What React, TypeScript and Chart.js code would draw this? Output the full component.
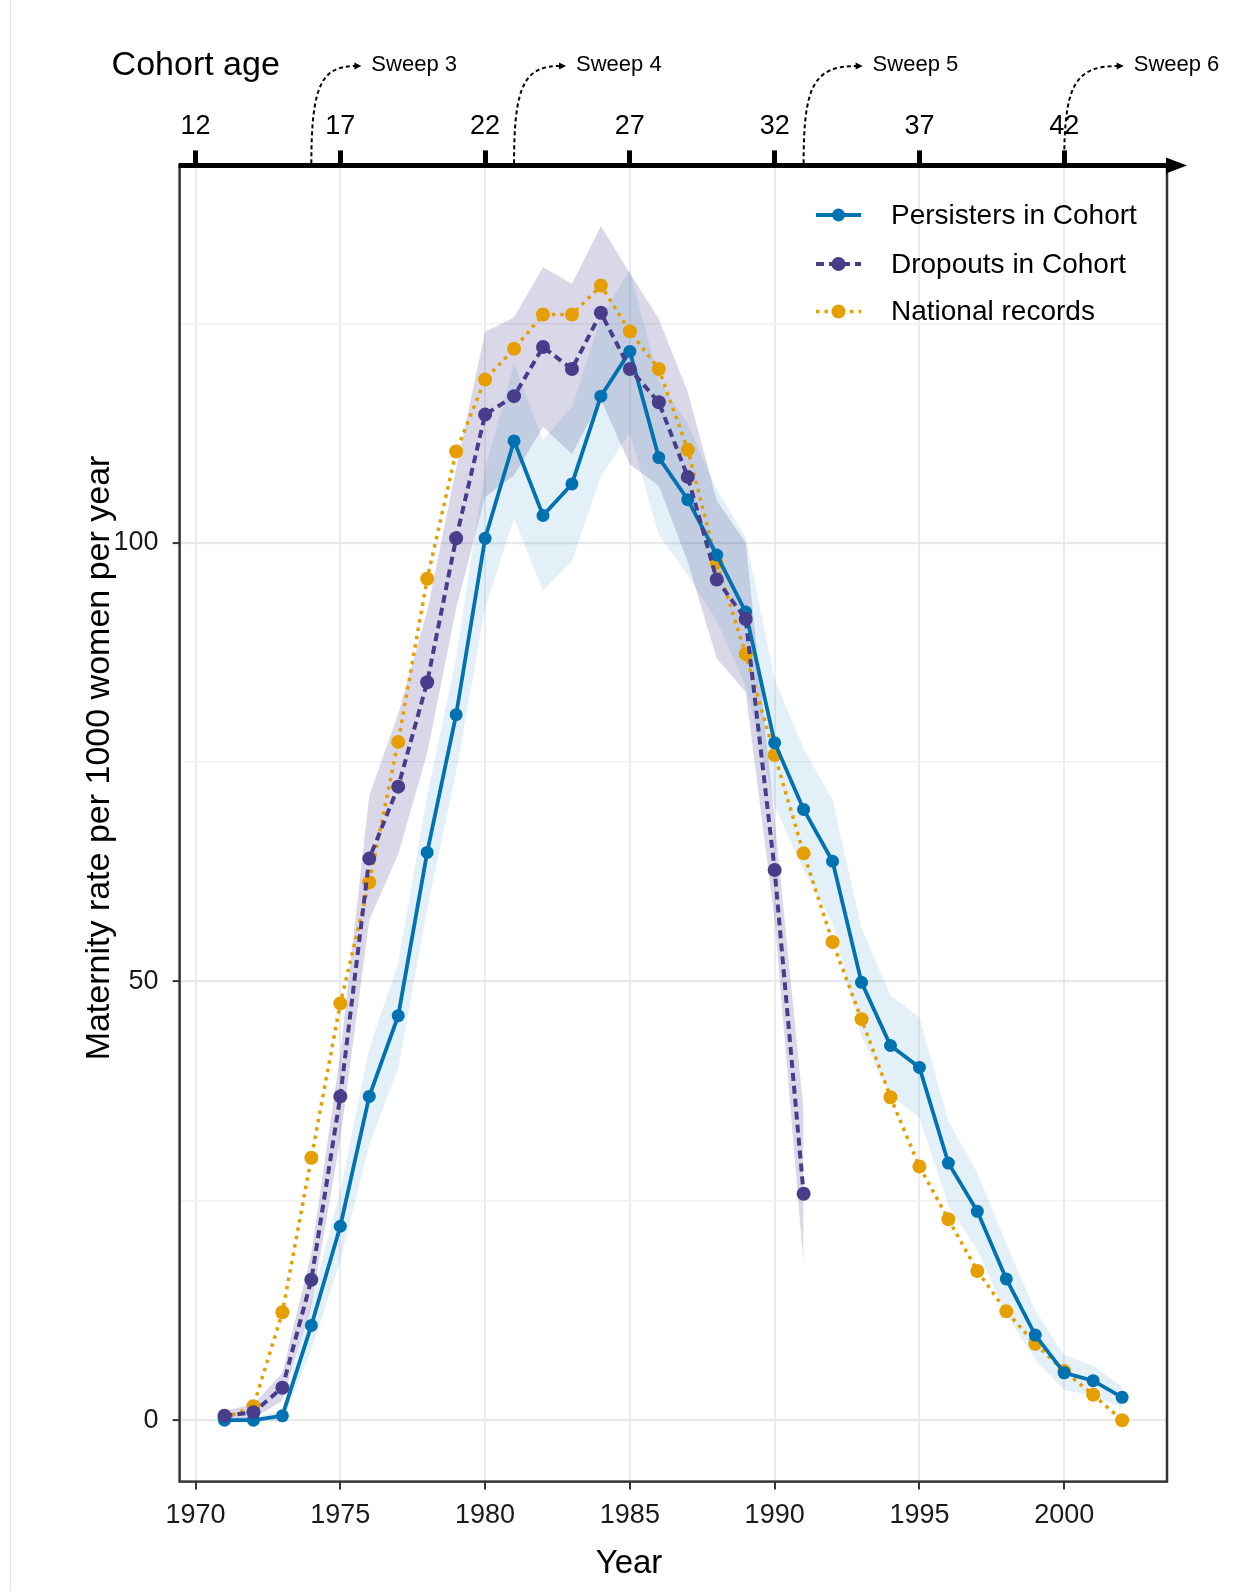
import React, { useEffect, useRef } from 'react';
import { Chart, registerables } from 'chart.js';

Chart.register(...registerables);

const W = 1234;
const H = 1591;
const FONT = "'Liberation Sans', Arial, Helvetica, sans-serif";

// ---------- data ----------
const years = [1971, 1972, 1973, 1974, 1975, 1976, 1977, 1978, 1979, 1980, 1981, 1982, 1983, 1984, 1985, 1986,
  1987, 1988, 1989, 1990, 1991, 1992, 1993, 1994, 1995, 1996, 1997, 1998, 1999, 2000, 2001, 2002];

const persisters = [0, 0, 0.5, 10.8, 22.1, 36.9, 46.1, 64.7, 80.4, 100.5, 111.6, 103.1, 106.7, 116.7, 121.8, 109.7,
  104.9, 98.6, 92.1, 77.2, 69.6, 63.7, 49.9, 42.7, 40.2, 29.3, 23.8, 16.1, 9.7, 5.4, 4.5, 2.6];
const persistersLow = [-0.3, -0.3, 0, 8.0, 18.1, 31.4, 40.1, 58.2, 73.9, 92.5, 102.8, 94.5, 97.9, 107.6, 112.5, 100.9,
  96.3, 91.1, 83.6, 70.0, 62.7, 56.7, 43.7, 37.0, 34.5, 24.5, 19.4, 12.1, 6.9, 3.4, 2.8, 1.4];
const persistersHigh = [0.3, 0.3, 1.2, 13.6, 26.1, 42.4, 52.1, 71.2, 86.9, 108.5, 120.4, 111.7, 115.5, 125.7, 131.1, 118.5,
  113.5, 106.1, 100.6, 84.4, 76.5, 70.7, 56.1, 48.4, 45.9, 34.1, 28.2, 20.1, 12.5, 7.4, 6.2, 3.8];

const dropoutYears = [1971, 1972, 1973, 1974, 1975, 1976, 1977, 1978, 1979, 1980, 1981, 1982, 1983, 1984, 1985, 1986,
  1987, 1988, 1989, 1990, 1991];
const dropouts = [0.5, 0.9, 3.7, 16.0, 36.9, 64.0, 72.2, 84.1, 100.5, 114.6, 116.7, 122.3, 119.8, 126.2, 119.8, 116.0,
  107.5, 95.8, 91.3, 62.7, 25.8];
const dropoutsLow = [0, 0.2, 2.2, 13.0, 32.0, 57.0, 64.5, 76.0, 92.5, 105.2, 107.7, 113.2, 110.1, 116.3, 108.9, 106.5,
  97.8, 86.8, 83.0, 57.0, 17.8];
const dropoutsHigh = [1.1, 1.8, 5.4, 19.0, 41.8, 71.2, 80.5, 92.2, 108.5, 124.0, 125.7, 131.4, 129.5, 136.1, 130.7, 125.5,
  117.2, 104.8, 100.0, 68.5, 35.3];

const national = [0.2, 1.6, 12.3, 29.9, 47.5, 61.3, 77.3, 95.9, 110.4, 118.6, 122.1, 126.0, 126.0, 129.3, 124.1, 119.8,
  110.6, 97.7, 87.3, 75.8, 64.6, 54.5, 45.7, 36.8, 28.9, 22.9, 17.0, 12.4, 8.7, 5.6, 2.9, 0];

const yearTicks = [1970, 1975, 1980, 1985, 1990, 1995, 2000];
const valueTicks = [0, 25, 50, 75, 100, 125];
const birthYear = 1958; // cohort age = year - birthYear

const sweepYears = [1974, 1981, 1991, 2000];
const sweepLabels = ['Sweep 3', 'Sweep 4', 'Sweep 5', 'Sweep 6'];

const seriesLabels = ['Persisters in Cohort', 'Dropouts in Cohort', 'National records'];

const BLUE = '#0072B2';
const PURPLE = '#483D8B';
const ORANGE = '#E69F00';

const toPts = (xs: number[], vs: number[]) => vs.map((v, i) => ({ x: xs[i], y: v }));

export default function App() {
  const ref = useRef<HTMLCanvasElement>(null);

  useEffect(() => {
    const canvas = ref.current;
    if (!canvas) return;

    const AREA = { left: 179.6, right: 1167, top: 165.4, bottom: 1481.6 };
    const sweepTipOffset = [50, 52, 59, 59.5];

    const decor = {
      id: 'decor',
      afterDraw(chart: any) {
        const ctx = chart.ctx as CanvasRenderingContext2D;
        const ca = chart.chartArea;
        const xs = chart.scales.x;
        ctx.save();

        // faint page line at left
        ctx.strokeStyle = '#e4e4e4';
        ctx.lineWidth = 1;
        ctx.beginPath();
        ctx.moveTo(10.5, 0);
        ctx.lineTo(10.5, H);
        ctx.stroke();

        // plot border
        ctx.strokeStyle = '#333333';
        ctx.lineWidth = 2.5;
        ctx.strokeRect(ca.left, ca.top, ca.right - ca.left, ca.bottom - ca.top);

        // top axis with arrow
        ctx.strokeStyle = '#000';
        ctx.fillStyle = '#000';
        ctx.lineWidth = 5;
        ctx.beginPath();
        ctx.moveTo(ca.left - 1, ca.top);
        ctx.lineTo(1172, ca.top);
        ctx.stroke();
        ctx.beginPath();
        ctx.moveTo(1166, ca.top - 8);
        ctx.lineTo(1187, ca.top);
        ctx.lineTo(1166, ca.top + 8);
        ctx.closePath();
        ctx.fill();

        // sweep annotations
        sweepYears.forEach((yr, i) => {
          const x0 = xs.getPixelForValue(yr);
          const tip = x0 + sweepTipOffset[i];
          const yTop = 66;
          ctx.setLineDash([4, 3]);
          ctx.lineWidth = 2;
          ctx.strokeStyle = '#000';
          ctx.beginPath();
          ctx.moveTo(x0, ca.top - 2);
          ctx.bezierCurveTo(x0, 86, x0 + 10, yTop, tip - 6, yTop);
          ctx.stroke();
          ctx.setLineDash([]);
          ctx.beginPath();
          ctx.moveTo(tip - 7, yTop - 3.5);
          ctx.lineTo(tip, yTop);
          ctx.lineTo(tip - 7, yTop + 3.5);
          ctx.closePath();
          ctx.fill();
          ctx.font = `22px ${FONT}`;
          ctx.textAlign = 'left';
          ctx.textBaseline = 'middle';
          ctx.fillText(sweepLabels[i], tip + 10, 65);
        });

        // titles
        ctx.fillStyle = '#000';
        ctx.font = `34px ${FONT}`;
        ctx.textAlign = 'left';
        ctx.textBaseline = 'middle';
        ctx.fillText('Cohort age', 111.6, 66);

        ctx.font = `33px ${FONT}`;
        ctx.textAlign = 'center';
        ctx.fillText('Year', 629, 1564);

        ctx.save();
        ctx.translate(99.5, 758);
        ctx.rotate(-Math.PI / 2);
        ctx.font = `34px ${FONT}`;
        ctx.fillText('Maternity rate per 1000 women per year', 0, 0);
        ctx.restore();

        // legend
        const legendY = [215, 264, 311.5];
        const styles = [
          { color: BLUE, dash: [] as number[], w: 3.8, r: 6.5 },
          { color: PURPLE, dash: [8, 5], w: 4, r: 7 },
          { color: ORANGE, dash: [3.5, 5], w: 3.5, r: 7 },
        ];
        seriesLabels.forEach((lab, i) => {
          const y = legendY[i];
          const s = styles[i];
          ctx.strokeStyle = s.color;
          ctx.fillStyle = s.color;
          ctx.lineWidth = s.w;
          ctx.setLineDash(s.dash);
          ctx.beginPath();
          ctx.moveTo(816, y);
          ctx.lineTo(861, y);
          ctx.stroke();
          ctx.setLineDash([]);
          ctx.beginPath();
          ctx.arc(838.5, y, s.r, 0, Math.PI * 2);
          ctx.fill();
          ctx.fillStyle = '#000';
          ctx.font = `28px ${FONT}`;
          ctx.textAlign = 'left';
          ctx.textBaseline = 'middle';
          ctx.fillText(lab, 891, y + 1);
        });

        ctx.restore();
      },
    };

    const ribbon = (xs: number[], lo: number[], hi: number[], color: string, order: number) => [
      {
        label: 'lo',
        data: toPts(xs, lo),
        borderColor: 'transparent',
        borderWidth: 0,
        pointRadius: 0,
        fill: false,
        order,
      },
      {
        label: 'hi',
        data: toPts(xs, hi),
        borderColor: 'transparent',
        borderWidth: 0,
        pointRadius: 0,
        backgroundColor: color,
        fill: '-1',
        order,
      },
    ];

    const chart = new Chart(canvas, {
      type: 'line',
      data: {
        datasets: [
          {
            label: seriesLabels[0],
            data: toPts(years, persisters),
            borderColor: BLUE,
            backgroundColor: BLUE,
            borderWidth: 3.8,
            pointRadius: 6.5,
            pointBorderWidth: 0,
            pointBackgroundColor: BLUE,
            fill: false,
            order: 1,
          },
          {
            label: seriesLabels[1],
            data: toPts(dropoutYears, dropouts),
            borderColor: PURPLE,
            backgroundColor: PURPLE,
            borderWidth: 4,
            borderDash: [8, 5],
            pointRadius: 7,
            pointBorderWidth: 0,
            pointBackgroundColor: PURPLE,
            fill: false,
            order: 0,
          },
          {
            label: seriesLabels[2],
            data: toPts(years, national),
            borderColor: ORANGE,
            backgroundColor: ORANGE,
            borderWidth: 3.5,
            borderDash: [3.5, 5],
            pointRadius: 7,
            pointBorderWidth: 0,
            pointBackgroundColor: ORANGE,
            fill: false,
            order: 2,
          },
          ...ribbon(years, persistersLow, persistersHigh, 'rgba(0,114,178,0.11)', 5),
          ...ribbon(dropoutYears, dropoutsLow, dropoutsHigh, 'rgba(72,61,139,0.20)', 6),
        ] as any,
      },
      options: {
        responsive: false,
        animation: false,
        devicePixelRatio: 1,
        layout: { padding: { left: 0, top: 0, right: W - AREA.right, bottom: 0 } },
        plugins: {
          legend: { display: false },
          tooltip: { enabled: false },
          title: { display: false },
        },
        elements: { line: { tension: 0 } },
        scales: {
          x: {
            type: 'linear',
            position: 'bottom',
            min: 1969.45,
            max: 2003.55,
            afterFit: (s: any) => { s.height = H - AREA.bottom; },
            afterBuildTicks: (s: any) => { s.ticks = yearTicks.map((v) => ({ value: v })); },
            ticks: {
              callback: (v: any) => String(v),
              font: { size: 27, family: FONT },
              color: '#1a1a1a',
              padding: 10,
              maxRotation: 0,
              autoSkip: false,
            },
            grid: { color: '#ebebeb', lineWidth: 2, tickColor: '#333', tickLength: 8, tickWidth: 2 },
            border: { display: false },
          },
          x2: {
            type: 'linear',
            position: 'top',
            min: 1969.45,
            max: 2003.55,
            afterFit: (s: any) => { s.height = AREA.top; },
            afterBuildTicks: (s: any) => { s.ticks = yearTicks.map((v) => ({ value: v })); },
            ticks: {
              callback: (v: any) => String(Number(v) - birthYear),
              font: { size: 27, family: FONT },
              color: '#000',
              padding: 8,
              maxRotation: 0,
              autoSkip: false,
            },
            grid: { drawOnChartArea: false, tickColor: '#000', tickLength: 15, tickWidth: 5 },
            border: { display: false },
          },
          y: {
            type: 'linear',
            min: -7,
            max: 143,
            afterFit: (s: any) => { s.width = AREA.left; },
            afterBuildTicks: (s: any) => { s.ticks = valueTicks.map((v) => ({ value: v })); },
            ticks: {
              callback: (v: any) => (Number(v) % 50 === 0 ? String(v) : ''),
              font: { size: 27, family: FONT },
              color: '#1a1a1a',
              padding: 14,
              autoSkip: false,
            },
            grid: {
              color: (c: any) => (c.tick && c.tick.value % 50 === 0 ? '#e8e8e8' : '#f1f1f1'),
              lineWidth: (c: any) => (c.tick && c.tick.value % 50 === 0 ? 2.2 : 1.6),
              tickColor: (c: any) => (c.tick && c.tick.value % 50 === 0 ? '#333' : 'rgba(0,0,0,0)'),
              tickLength: 7,
              tickWidth: 2,
            },
            border: { display: false },
          },
        },
      } as any,
      plugins: [decor],
    });

    return () => chart.destroy();
  }, []);

  return (
    <div style={{ position: 'absolute', left: 0, top: 0, width: W, height: H, background: '#fff' }}>
      <canvas ref={ref} width={W} height={H} style={{ width: W, height: H, display: 'block' }} />
    </div>
  );
}
